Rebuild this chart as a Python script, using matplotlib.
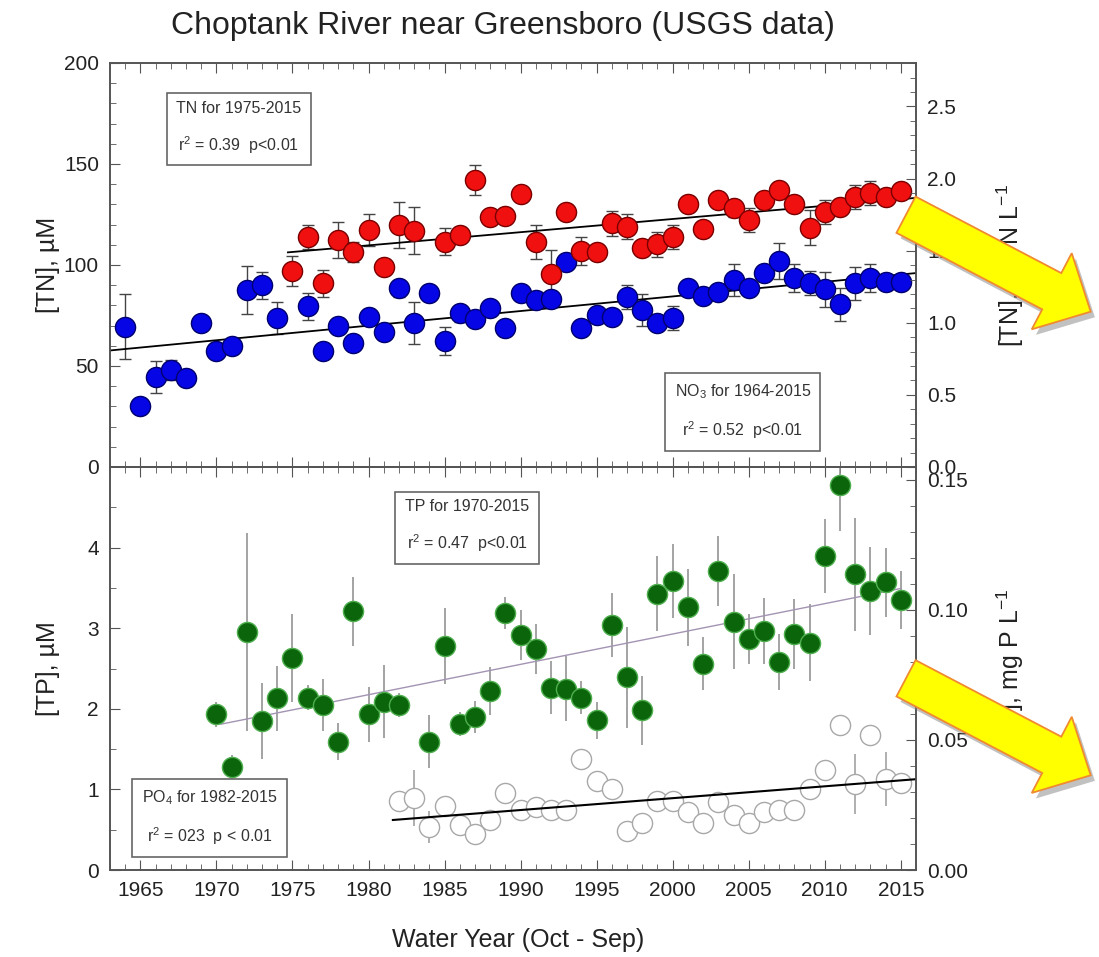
import numpy as np
import matplotlib
matplotlib.use("Agg")
import matplotlib.pyplot as plt
from matplotlib.ticker import MultipleLocator, FormatStrFormatter
from matplotlib.patches import FancyArrow
from matplotlib.transforms import IdentityTransform
import matplotlib.patheffects as pe

plt.rcParams['font.family'] = ['Liberation Sans', 'DejaVu Sans']
plt.rcParams['mathtext.fontset'] = 'custom'
plt.rcParams['mathtext.rm'] = 'Liberation Sans'
plt.rcParams['mathtext.it'] = 'Liberation Sans:italic'

# ---- nitrate (NO3), uM ----
no3_yr = [1964, 1965, 1966, 1967, 1968, 1969, 1970, 1971, 1972, 1973, 1974,
          1976, 1977, 1978, 1979, 1980, 1981, 1982, 1983, 1984, 1985, 1986,
          1987, 1988, 1989, 1990, 1991, 1992, 1993, 1994, 1995, 1996, 1997,
          1998, 1999, 2000, 2001, 2002, 2003, 2004, 2005, 2006, 2007, 2008,
          2009, 2010, 2011, 2012, 2013, 2014, 2015]
no3 = [69.5, 30.3, 44.7, 48.0, 44.2, 71.4, 57.6, 60.0, 87.6, 90.0, 73.6,
       79.5, 57.6, 70.0, 61.2, 74.4, 67.0, 88.4, 71.1, 86.0, 62.4, 76.0,
       73.3, 78.9, 68.7, 86.0, 82.7, 83.0, 101.6, 68.7, 75.2, 74.4, 84.0,
       77.7, 71.1, 73.6, 88.8, 84.7, 86.8, 92.6, 88.8, 95.9, 102.0, 93.4,
       91.2, 88.0, 80.5, 90.9, 93.4, 91.7, 91.7]
no3_err = [16, 4, 8, 5, 4, 4, 4, 4, 12, 6.6, 8,
           6.6, 4, 4, 4, 4, 4, 4, 10.4, 4, 6.8, 4,
           4, 4, 4, 4, 4, 4, 4, 4, 4, 4, 6,
           8, 4, 6, 4, 4, 4, 8, 4, 4, 9, 7,
           6, 8.6, 8, 8, 7, 4, 4]

# ---- total nitrogen (TN), uM ----
tn_yr = [1975, 1976, 1977, 1978, 1979, 1980, 1981, 1982, 1983, 1985,
         1986, 1987, 1988, 1989, 1990, 1991, 1992, 1993, 1994, 1995,
         1996, 1997, 1998, 1999, 2000, 2001, 2002, 2003, 2004, 2005,
         2006, 2007, 2008, 2009, 2010, 2011, 2012, 2013, 2014, 2015]
tn = [97.2, 114.0, 90.9, 112.4, 106.6, 117.3, 99.2, 119.8, 117.0, 111.5,
      114.9, 142.0, 123.9, 124.4, 135.0, 111.5, 95.4, 126.4, 107.0, 106.3,
      120.6, 119.0, 108.3, 110.2, 114.0, 130.0, 117.7, 132.2, 128.0, 122.3,
      132.2, 137.1, 130.2, 118.5, 126.4, 128.9, 133.8, 135.5, 133.5, 136.6]
tn_err = [7.4, 6, 6.6, 9, 5, 8, 4, 11.5, 11.5, 6.6,
          4, 7.4, 4, 4, 4, 8.5, 12, 4, 7, 4,
          6, 6, 4, 6, 6, 4, 4, 4, 4, 6,
          4, 4, 4, 8.5, 6, 4, 6, 6, 4, 4]

# ---- total phosphorus (TP), uM ----
tp_yr = [1970, 1971, 1972, 1973, 1974, 1975, 1976, 1977, 1978, 1979, 1980,
         1981, 1982, 1984, 1985, 1986, 1987, 1988, 1989, 1990, 1991, 1992,
         1993, 1994, 1995, 1996, 1997, 1998, 1999, 2000, 2001, 2002, 2003,
         2004, 2005, 2006, 2007, 2008, 2009, 2010, 2011, 2012, 2013, 2014,
         2015]
tp = [1.93, 1.28, 2.95, 1.85, 2.13, 2.63, 2.14, 2.05, 1.59, 3.21, 1.93,
      2.09, 2.05, 1.59, 2.78, 1.81, 1.90, 2.22, 3.19, 2.91, 2.74, 2.26,
      2.25, 2.14, 1.86, 3.04, 2.39, 1.98, 3.43, 3.59, 3.26, 2.56, 3.71,
      3.08, 2.86, 2.97, 2.58, 2.93, 2.82, 3.90, 4.78, 3.67, 3.46, 3.57,
      3.35]
tp_err = [0.15, 0.15, 1.23, 0.47, 0.40, 0.55, 0.15, 0.32, 0.23, 0.43, 0.34,
          0.45, 0.15, 0.33, 0.47, 0.15, 0.20, 0.30, 0.20, 0.31, 0.31, 0.33,
          0.40, 0.20, 0.23, 0.40, 0.63, 0.43, 0.47, 0.46, 0.48, 0.33, 0.44,
          0.59, 0.31, 0.41, 0.35, 0.43, 0.48, 0.46, 0.58, 0.70, 0.55, 0.43,
          0.36]

# ---- phosphate (PO4), uM ----
po4_yr = list(range(1982, 2016))
po4 = [0.85, 0.89, 0.53, 0.80, 0.56, 0.45, 0.62, 0.96, 0.74, 0.78, 0.74,
       0.74, 1.38, 1.11, 1.01, 0.49, 0.58, 0.86, 0.86, 0.72, 0.58, 0.84,
       0.68, 0.58, 0.72, 0.74, 0.74, 1.01, 1.24, 1.80, 1.07, 1.67, 1.13,
       1.08]
po4_err = [0.1, 0.35, 0.2, 0.1, 0.1, 0.1, 0.1, 0.1, 0.1, 0.1, 0.1,
           0.1, 0.1, 0.1, 0.1, 0.1, 0.1, 0.12, 0.1, 0.1, 0.1, 0.1,
           0.1, 0.1, 0.1, 0.1, 0.1, 0.1, 0.1, 0.1, 0.37, 0.1, 0.33, 0.1]

# year span over which each regression line is drawn
no3_span = (1963, 2016)
tn_span = (1974.7, 2016)
tp_span = (1970.3, 2015)
po4_span = (1981.6, 2016)

N_MG = 14.007 / 1000   # uM N -> mg N/L
P_MG = 30.974 / 1000   # uM P -> mg P/L

W, H = 1099, 957
fig = plt.figure(figsize=(W / 100, H / 100), dpi=100)
L, R = 110 / W, 916 / W
ax1 = fig.add_axes([L, 1 - 467 / H, R - L, 404 / H])
ax2 = fig.add_axes([L, 1 - 870 / H, R - L, 403 / H], sharex=ax1)

grey = '#555555'
tick_kw = dict(direction='in', colors=grey, labelcolor='#222222', labelsize=15)


def trend(ax, x, y, span, **kw):
    k, b = np.polyfit(x, y, 1)
    xs = np.array(span)
    ax.plot(xs, k * xs + b, **kw)


def note(ax, x, y, s):
    ax.text(x, y, s, transform=ax.transAxes, ha='center', va='center',
            fontsize=11.5, color='#333333', linespacing=2.1,
            multialignment='center', zorder=6,
            bbox=dict(boxstyle='square,pad=0.6', fc='white', ec='#666666', lw=1.2))


# top panel: nitrogen
ax1.errorbar(no3_yr, no3, yerr=no3_err, fmt='none', ecolor='#444444',
             elinewidth=1, capsize=4, capthick=1, zorder=2)
ax1.errorbar(tn_yr, tn, yerr=tn_err, fmt='none', ecolor='#444444',
             elinewidth=1, capsize=4, capthick=1, zorder=2)
trend(ax1, no3_yr, no3, no3_span, color='black', lw=1.3, zorder=3)
trend(ax1, tn_yr, tn, tn_span, color='black', lw=1.3, zorder=3)
ax1.plot(no3_yr, no3, 'o', ms=14.5, mfc='#0505E6', mec='#00006E', mew=1, zorder=4)
ax1.plot(tn_yr, tn, 'o', ms=14.5, mfc='#F01010', mec='#7A0000', mew=1, zorder=4)

ax1.set_xlim(1963, 2016)
ax1.set_ylim(0, 200)
ax1.yaxis.set_major_locator(MultipleLocator(50))
ax1.yaxis.set_minor_locator(MultipleLocator(10))
ax1.xaxis.set_major_locator(MultipleLocator(5))
ax1.xaxis.set_minor_locator(MultipleLocator(1))
ax1.tick_params(which='both', top=True, labelbottom=False, pad=8, **tick_kw)
ax1.tick_params(which='major', length=7)
ax1.tick_params(which='minor', length=4)
ax1.set_ylabel('[TN], µM', fontsize=18, color='#222222')
ax1.yaxis.set_label_coords(-0.062, 0.5)

note(ax1, 0.160, 0.839, 'TN for 1975-2015\nr$^2$ = 0.39  p<0.01')
note(ax1, 0.785, 0.137, 'NO$_3$ for 1964-2015\nr$^2$ = 0.52  p<0.01')

ax1r = ax1.twinx()
ax1r.set_ylim(0, 200 * N_MG)
ax1r.yaxis.set_major_locator(MultipleLocator(0.5))
ax1r.yaxis.set_minor_locator(MultipleLocator(0.1))
ax1r.yaxis.set_major_formatter(FormatStrFormatter('%.1f'))
ax1r.tick_params(which='both', pad=8, **tick_kw)
ax1r.tick_params(which='major', length=7)
ax1r.tick_params(which='minor', length=4)
ax1r.set_ylabel('[TN], mg N L$^{-1}$', fontsize=18, color='#222222')
ax1r.yaxis.set_label_coords(1.097, 0.5)

# bottom panel: phosphorus
ax2.errorbar(tp_yr, tp, yerr=tp_err, fmt='none', ecolor='#8a8a8a',
             elinewidth=1.1, capsize=0, zorder=2)
ax2.errorbar(po4_yr, po4, yerr=po4_err, fmt='none', ecolor='#9a9a9a',
             elinewidth=1.1, capsize=0, zorder=2)
trend(ax2, tp_yr, tp, tp_span, color='#a394b3', lw=1.0, zorder=3)
trend(ax2, po4_yr, po4, po4_span, color='black', lw=1.5, zorder=5)
ax2.plot(tp_yr, tp, 'o', ms=14.5, mfc='#0B660B', mec='#4FAF4F', mew=1, zorder=4)
ax2.plot(po4_yr, po4, 'o', ms=14.5, mfc='white', mec='#a8a8a8', mew=1, zorder=4)

ax2.set_ylim(0, 5)
ax2.set_yticks([0, 1, 2, 3, 4])
ax2.yaxis.set_minor_locator(MultipleLocator(0.5))
ax2.tick_params(which='both', top=True, pad=8, **tick_kw)
ax2.tick_params(which='major', length=7)
ax2.tick_params(which='minor', length=4)
ax2.set_ylabel('[TP], µM', fontsize=18, color='#222222')
ax2.yaxis.set_label_coords(-0.062, 0.5)

note(ax2, 0.443, 0.852, 'TP for 1970-2015\nr$^2$ = 0.47  p<0.01')
note(ax2, 0.1234, 0.130, 'PO$_4$ for 1982-2015\nr$^2$ = 023  p < 0.01')

ax2r = ax2.twinx()
ax2r.set_ylim(0, 5 * P_MG)
ax2r.yaxis.set_major_locator(MultipleLocator(0.05))
ax2r.yaxis.set_minor_locator(MultipleLocator(0.01))
ax2r.yaxis.set_major_formatter(FormatStrFormatter('%.2f'))
ax2r.tick_params(which='both', pad=8, **tick_kw)
ax2r.tick_params(which='major', length=7)
ax2r.tick_params(which='minor', length=4)
ax2r.set_ylabel('[TP], mg P L$^{-1}$', fontsize=18, color='#222222')
ax2r.yaxis.set_label_coords(1.097, 0.5)

for a in (ax1, ax2, ax1r, ax2r):
    for sp in a.spines.values():
        sp.set_color(grey)
        sp.set_linewidth(1.2)

fig.text(503 / W, 1 - 26 / H, 'Choptank River near Greensboro (USGS data)',
         ha='center', va='center', fontsize=23, color='#222222')
fig.text(518 / W, 1 - 940 / H, 'Water Year (Oct - Sep)',
         ha='center', va='center', fontsize=18, color='#222222')

# yellow pointer arrows on the right-hand axis labels (pixel units)
for y0 in (214.7, 678.3):
    arr = FancyArrow(906, H - y0, 184.7, -97, width=41, head_width=86,
                     head_length=44, length_includes_head=True,
                     transform=IdentityTransform(), fc='#FFFF00', ec='#F08A30',
                     lw=1.3, zorder=10)
    arr.set_path_effects([pe.withSimplePatchShadow(offset=(3, -4),
                                                   shadow_rgbFace='#777777', alpha=0.45)])
    fig.add_artist(arr)

fig.savefig('out.png', dpi=100)
